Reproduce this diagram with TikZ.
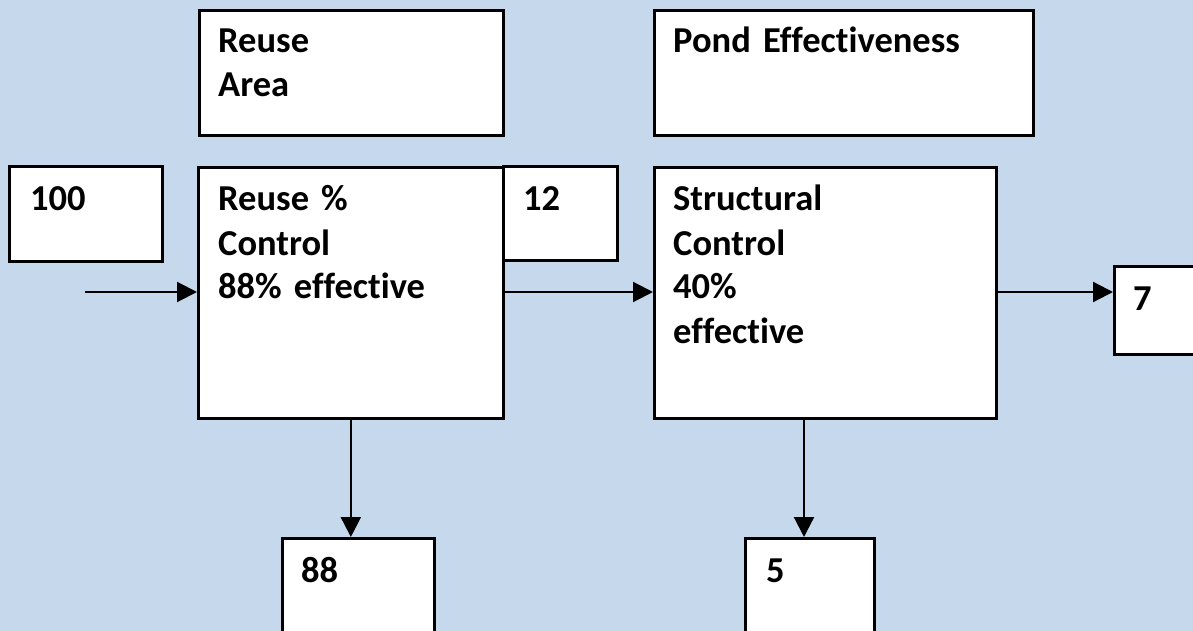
\documentclass[tikz,border=0pt]{standalone}
\usepackage{fontspec}
\setmainfont{Carlito}[Ligatures={NoCommon}]
\usetikzlibrary{arrows.meta}
\definecolor{bgblue}{HTML}{C5D8EC}
\begin{document}
\begin{tikzpicture}[x=1pt,y=-1pt,
  box/.style={draw=black, fill=white, line width=2.7pt, rectangle, anchor=north west, inner sep=0pt},
  lbl/.style={anchor=base west, inner sep=0pt, text width=330pt, align=left,
    font=\fontsize{36.5}{44}\selectfont\bfseries},
  flow/.style={line width=2.2pt, -{Triangle[length=20pt,width=20pt]}}]
\fill[bgblue] (0,0) rectangle (1193,631);
\useasboundingbox (0,0) rectangle (1193,631);
% boxes
\node[box, minimum width=304pt, minimum height=125pt] (area) at (198,9) {};
\node[box, minimum width=379pt, minimum height=125pt] (pond) at (653,9) {};
\node[box, minimum width=153pt, minimum height=95pt] (in100) at (8,165) {};
\node[box, minimum width=305pt, minimum height=251pt] (reuse) at (197,166) {};
\node[box, minimum width=114pt, minimum height=94pt] (b12) at (502,165) {};
\node[box, minimum width=342pt, minimum height=251pt] (struct) at (653,166) {};
\node[box, minimum width=110pt, minimum height=88pt] (b7) at (1113,265) {};
\node[box, minimum width=152pt, minimum height=120pt] (b88) at (281,537) {};
\node[box, minimum width=129pt, minimum height=120pt] (b5) at (744,537) {};
% labels
\node[lbl] (tarea) at (218,53) {Reuse\\Area};
\node[lbl] (tpond) at (673,53) {Pond Effectiveness};
\node[lbl] (t100) at (30,211) {100};
\node[lbl] (treuse) at (218,211) {Reuse \%\\Control\\88\% effective};
\node[lbl] (t12) at (523,211) {12};
\node[lbl] (tstruct) at (673,211) {Structural\\Control\\40\%\\effective};
\node[lbl] (t7) at (1133,310) {7};
\node[lbl] (t88) at (301,582) {88};
\node[lbl] (t5) at (766,582) {5};
% connectors
\coordinate (a1) at (85,292);
\coordinate (d2) at (804,0);
\draw[flow] (a1) -- (a1 -| reuse.west);
\draw[flow] (a1 -| reuse.east) -- (a1 -| struct.west);
\draw[flow] (a1 -| struct.east) -- (a1 -| b7.west);
\draw[flow] (reuse.south) -- (reuse.south |- b88.north);
\draw[flow] (struct.south -| d2) -- (d2 |- b5.north);
\end{tikzpicture}
\end{document}
